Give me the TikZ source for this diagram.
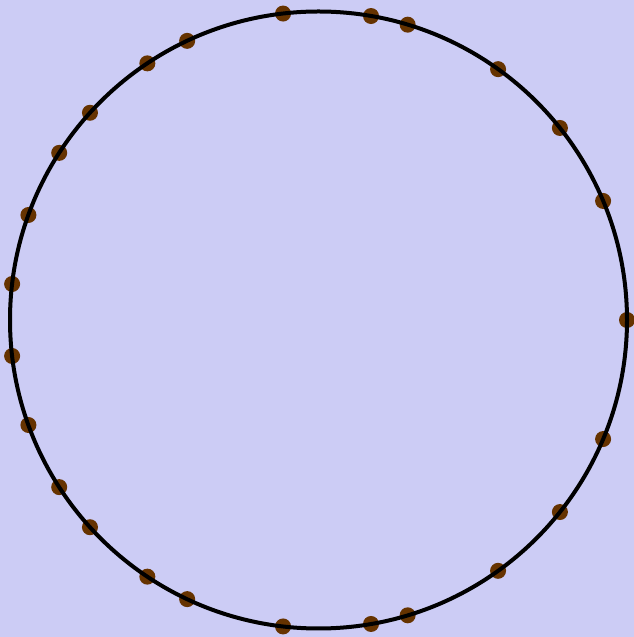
\documentclass[tikz,border=0pt]{standalone}
\usepackage{tikz}
\usetikzlibrary{positioning,calc}
\definecolor{ringbg}{RGB}{204,204,245}
\definecolor{beadbrown}{RGB}{102,51,0}
\tikzset{
    bead/.style={circle, fill=beadbrown, inner sep=0pt, minimum size=16pt},
    ring/.style={line width=4pt, black},
}

\begin{document}
\begin{tikzpicture}[x=1pt,y=1pt]
    % background
    \fill[ringbg] (0,0) rectangle (634,637);
    \useasboundingbox (0,0) rectangle (634,637);
    \coordinate (C) at (318.5,317);

    % beads on the ring
    \foreach \a [count=\i] in {0, 22.7, 38.5, 54.4, 73.2, 80.2, 96.6, 115.2, 123.7, 137.8, 147.2, 160.1, 173.3,
        -22.7, -38.5, -54.4, -73.2, -80.2, -96.6, -115.2, -123.7, -137.8, -147.2, -160.1, -173.3} {
        \node[bead] (b\i) at ($(C)+(\a:308.5)$) {};
    }

    % ring
    \draw[ring] (C) circle (308.5);
\end{tikzpicture}
\end{document}
